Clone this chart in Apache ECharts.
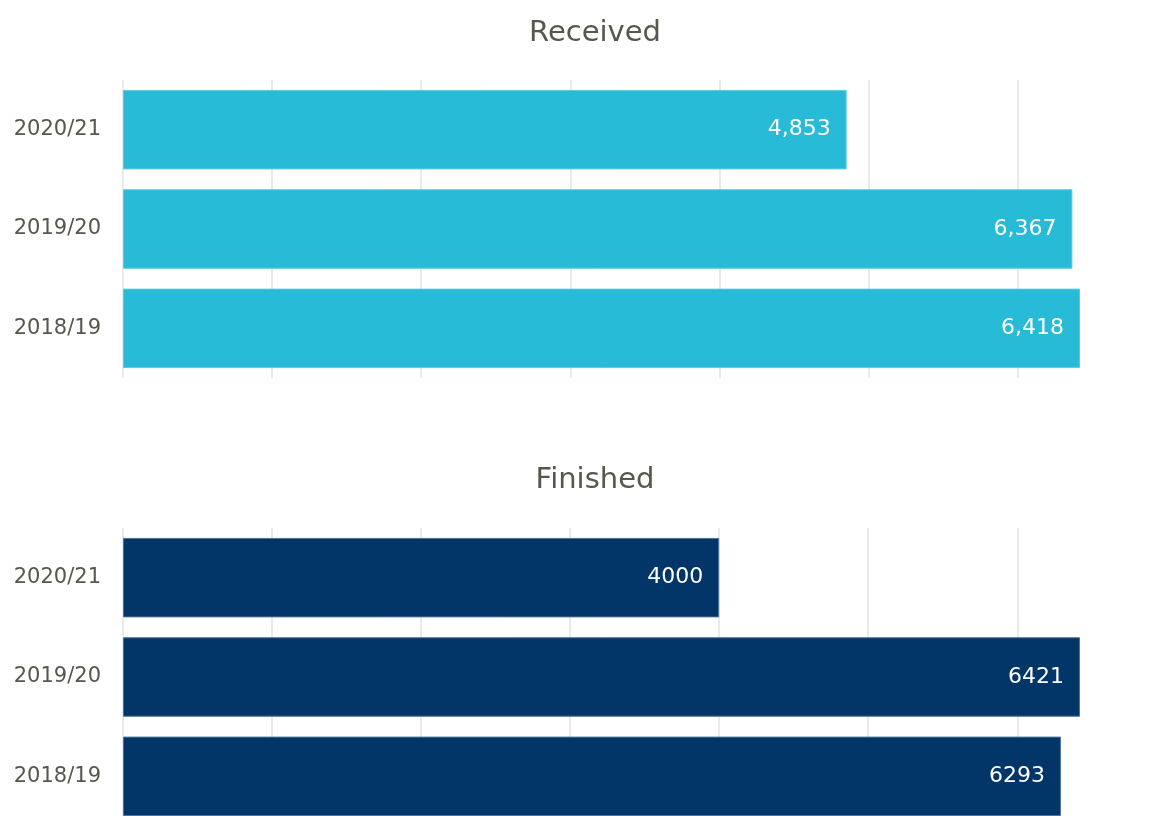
<!DOCTYPE html>
<html>
<head>
<meta charset="utf-8">
<script src="https://cdn.jsdelivr.net/npm/echarts@6/dist/echarts.min.js"></script>
<style>
  html, body { margin: 0; padding: 0; background: #fff; overflow: hidden; }
  /* taller than the window: the bottom chart runs off the bottom edge in the reference */
  #chart { width: 1155px; height: 840px; }
</style>
</head>
<body>
<div id="chart"></div>
<script>
// categories, top to bottom
var years = ['2020/21', '2019/20', '2018/19'];
var received = [4853, 6367, 6418];
var finished = [4000, 6421, 6293];
var titles = ['Received', 'Finished'];

var textColor = '#57574c';
var font = 'DejaVu Sans';

var myChart = echarts.init(document.getElementById('chart'));

function makeGrid(top) {
    return { left: 123, width: 957, top: top, height: 298 };
}

function xAxisFor(i) {
    return {
        type: 'value',
        gridIndex: i,
        min: 0,
        max: 'dataMax',
        interval: 1000,
        axisLabel: { show: false },
        axisLine: { show: false },
        axisTick: { show: false },
        splitLine: {
            show: true,
            showMaxLine: false,
            lineStyle: { color: '#e8eaee', width: 2 }
        }
    };
}

function yAxisFor(i) {
    return {
        type: 'category',
        gridIndex: i,
        data: years,
        inverse: true,
        axisLine: { show: false },
        axisTick: { show: false },
        axisLabel: {
            color: textColor,
            fontFamily: font,
            fontSize: 21,
            margin: 22
        }
    };
}

var option = {
    animation: false,
    title: [
        {
            text: titles[0],
            left: 590,
            top: 14,
            textAlign: 'center',
            textStyle: { color: textColor, fontFamily: font, fontSize: 29, fontWeight: 'normal' }
        },
        {
            text: titles[1],
            left: 590,
            top: 461,
            textAlign: 'center',
            textStyle: { color: textColor, fontFamily: font, fontSize: 29, fontWeight: 'normal' }
        }
    ],
    grid: [makeGrid(80), makeGrid(528)],
    xAxis: [xAxisFor(0), xAxisFor(1)],
    yAxis: [yAxisFor(0), yAxisFor(1)],
    series: [
        {
            name: titles[0],
            type: 'bar',
            xAxisIndex: 0,
            yAxisIndex: 0,
            data: received,
            barCategoryGap: '20%',
            itemStyle: { color: '#27bbd7', borderColor: '#5ccbe0', borderWidth: 1 },
            label: {
                show: true,
                position: 'insideRight',
                distance: 16,
                color: '#fff',
                fontFamily: font,
                fontSize: 22,
                formatter: function (p) {
                    return p.value.toLocaleString('en-US');
                }
            }
        },
        {
            name: titles[1],
            type: 'bar',
            xAxisIndex: 1,
            yAxisIndex: 1,
            data: finished,
            barCategoryGap: '20%',
            itemStyle: { color: '#023568', borderColor: '#4d7299', borderWidth: 1 },
            label: {
                show: true,
                position: 'insideRight',
                distance: 16,
                color: '#fff',
                fontFamily: font,
                fontSize: 22
            }
        }
    ]
};

option && myChart.setOption(option);
</script>
</body>
</html>
